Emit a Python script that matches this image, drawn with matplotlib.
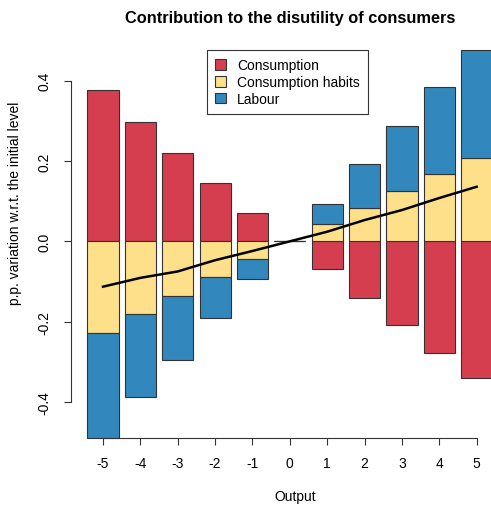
import matplotlib.pyplot as plt
import numpy as np

# Output shocks on the x axis
output = [-5, -4, -3, -2, -1, 0, 1, 2, 3, 4, 5]

# Contributions (p.p. variation w.r.t. the initial level)
consumption = [0.377, 0.297, 0.221, 0.145, 0.071, 0.0,
               -0.069, -0.140, -0.209, -0.277, -0.341]
habits = [-0.228, -0.181, -0.136, -0.089, -0.044, 0.0,
          0.042, 0.084, 0.125, 0.168, 0.207]
labour = [-0.262, -0.207, -0.160, -0.103, -0.051, 0.0,
          0.051, 0.109, 0.162, 0.217, 0.270]

series = [('Consumption', consumption, '#D53E4F'),
          ('Consumption habits', habits, '#FEE08B'),
          ('Labour', labour, '#3288BD')]

plt.rcParams['font.family'] = ['Liberation Sans', 'DejaVu Sans']
plt.rcParams['axes.unicode_minus'] = False

fig = plt.figure(figsize=(4.91, 5.06), dpi=100)
ax = fig.add_axes([71 / 491, 67 / 506, 1 - 71 / 491, 394 / 506])

x = np.array(output, dtype=float)
pos_base = np.zeros(len(x))
neg_base = np.zeros(len(x))
for name, vals, col in series:
    v = np.array(vals)
    base = np.where(v >= 0, pos_base, neg_base)
    ax.bar(x, v, bottom=base, width=0.833, color=col, edgecolor='#333333',
           linewidth=0.8, label=name, zorder=2, clip_on=False)
    pos_base += np.where(v >= 0, v, 0)
    neg_base += np.where(v < 0, v, 0)

# total disutility
total = pos_base + neg_base
ax.plot(x, total, color='black', linewidth=1.8, zorder=3)

ax.set_xlim(-5.856, 5.383)
ax.set_ylim(-0.490, 0.4917)
ax.set_xticks(output)
ax.set_yticks([-0.4, -0.2, 0.0, 0.2, 0.4])
ax.set_yticklabels(['-0.4', '-0.2', '0.0', '0.2', '0.4'], rotation=90, va='center')
ax.tick_params(axis='both', labelsize=10, length=5.2, width=0.8, color='#333333')
ax.tick_params(axis='x', pad=8)
ax.tick_params(axis='y', pad=9)

for s in ['top', 'right']:
    ax.spines[s].set_visible(False)
ax.spines['left'].set_bounds(-0.4, 0.4)
ax.spines['bottom'].set_bounds(-5, 5)
for s in ['left', 'bottom']:
    ax.spines[s].set_linewidth(0.8)
    ax.spines[s].set_color('#333333')

fig.text(290 / 491, 1 - 18 / 506, 'Contribution to the disutility of consumers',
         ha='center', va='center', fontsize=11.8, fontweight='bold')
fig.text(295 / 491, 1 - 497 / 506, 'Output', ha='center', va='center', fontsize=10)
fig.text(15 / 491, 1 - 203 / 506, 'p.p. variation w.r.t. the initial level',
         ha='center', va='center', rotation=90, fontsize=10)

leg = ax.legend(loc='upper left', bbox_to_anchor=(207 / 491, 1 - 51 / 506),
                bbox_transform=fig.transFigure, fontsize=10, frameon=True,
                fancybox=False, edgecolor='black', handlelength=0.78,
                handleheight=0.78, handletextpad=0.8, labelspacing=0.2,
                borderpad=0.6, borderaxespad=0)
leg.get_frame().set_linewidth(0.8)

fig.savefig('out.png', dpi=100)
